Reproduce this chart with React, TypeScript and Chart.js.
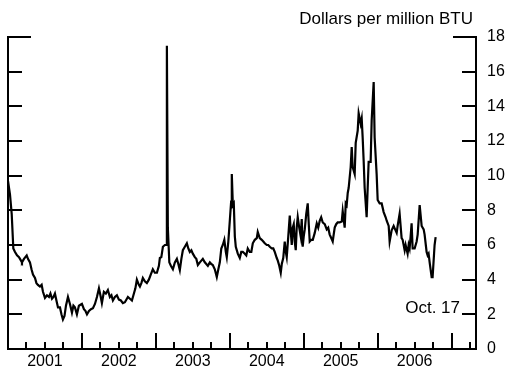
import React, { useEffect, useRef } from "react";
import { Chart, registerables } from "chart.js";

Chart.register(...registerables);

// Decimal-year positions of readings (weekly natural gas spot price)
const times = [
  2001.000, 2001.027, 2001.050, 2001.072, 2001.095, 2001.122, 2001.149, 2001.176, 2001.189, 2001.216,
  2001.253, 2001.270, 2001.297, 2001.318, 2001.338, 2001.365, 2001.385, 2001.405, 2001.432, 2001.455,
  2001.473, 2001.500, 2001.527, 2001.554, 2001.574, 2001.595, 2001.615, 2001.635, 2001.655, 2001.676,
  2001.703, 2001.723, 2001.743, 2001.764, 2001.784, 2001.811, 2001.838, 2001.865, 2001.885, 2001.905,
  2001.932, 2001.959, 2001.980, 2002.000, 2002.027, 2002.047, 2002.068, 2002.095, 2002.122, 2002.149,
  2002.176, 2002.203, 2002.230, 2002.250, 2002.270, 2002.297, 2002.324, 2002.351, 2002.378, 2002.399,
  2002.419, 2002.446, 2002.473, 2002.500, 2002.527, 2002.554, 2002.581, 2002.622, 2002.649, 2002.676,
  2002.703, 2002.723, 2002.743, 2002.770, 2002.784, 2002.804, 2002.824, 2002.851, 2002.878, 2002.905,
  2002.932, 2002.959, 2002.986, 2003.014, 2003.041, 2003.054, 2003.074, 2003.095, 2003.122, 2003.139,
  2003.149, 2003.162, 2003.182, 2003.203, 2003.230, 2003.257, 2003.284, 2003.304, 2003.324, 2003.345,
  2003.365, 2003.392, 2003.419, 2003.439, 2003.459, 2003.480, 2003.500, 2003.527, 2003.547, 2003.568,
  2003.595, 2003.615, 2003.635, 2003.662, 2003.682, 2003.703, 2003.730, 2003.750, 2003.770, 2003.797,
  2003.824, 2003.845, 2003.865, 2003.885, 2003.905, 2003.926, 2003.946, 2003.959, 2003.980, 2004.000,
  2004.018, 2004.027, 2004.041, 2004.054, 2004.068, 2004.081, 2004.108, 2004.135, 2004.155, 2004.176,
  2004.203, 2004.223, 2004.243, 2004.270, 2004.291, 2004.311, 2004.338, 2004.365, 2004.378, 2004.405,
  2004.432, 2004.453, 2004.473, 2004.500, 2004.520, 2004.541, 2004.568, 2004.588, 2004.608, 2004.635,
  2004.649, 2004.669, 2004.689, 2004.703, 2004.723, 2004.743, 2004.757, 2004.770, 2004.791, 2004.811,
  2004.824, 2004.838, 2004.851, 2004.865, 2004.878, 2004.892, 2004.905, 2004.919, 2004.939, 2004.959,
  2004.973, 2004.986, 2005.000, 2005.014, 2005.034, 2005.054, 2005.068, 2005.081, 2005.101, 2005.122,
  2005.149, 2005.176, 2005.196, 2005.216, 2005.236, 2005.257, 2005.284, 2005.311, 2005.331, 2005.351,
  2005.372, 2005.392, 2005.405, 2005.419, 2005.439, 2005.459, 2005.486, 2005.514, 2005.527, 2005.554,
  2005.568, 2005.581, 2005.595, 2005.608, 2005.635, 2005.649, 2005.662, 2005.689, 2005.703, 2005.730,
  2005.743, 2005.757, 2005.770, 2005.784, 2005.797, 2005.811, 2005.824, 2005.851, 2005.865, 2005.878,
  2005.905, 2005.919, 2005.946, 2005.959, 2005.986, 2006.000, 2006.027, 2006.054, 2006.081, 2006.108,
  2006.122, 2006.149, 2006.162, 2006.189, 2006.216, 2006.236, 2006.257, 2006.270, 2006.297, 2006.324,
  2006.338, 2006.365, 2006.378, 2006.405, 2006.419, 2006.432, 2006.446, 2006.459, 2006.473, 2006.500,
  2006.527, 2006.541, 2006.568, 2006.595, 2006.622, 2006.635, 2006.662, 2006.676, 2006.689, 2006.703,
  2006.730, 2006.743, 2006.770, 2006.784,
];

// Dollars per million BTU
const prices = [
  9.7, 8.9, 7.8, 5.8, 5.6, 5.4, 5.3, 5.1, 5.0, 5.2,
  5.4, 5.2, 5.0, 4.6, 4.3, 4.1, 3.8, 3.7, 3.6, 3.7,
  3.3, 2.95, 3.1, 3.0, 3.2, 2.9, 3.0, 3.2, 2.8, 2.4,
  2.4, 2.0, 1.7, 1.9, 2.5, 3.0, 2.6, 2.1, 2.5, 2.4,
  2.0, 2.5, 2.55, 2.6, 2.3, 2.2, 2.0, 2.2, 2.3, 2.35,
  2.6, 3.0, 3.5, 3.1, 2.65, 3.3, 3.2, 3.4, 3.0, 3.1,
  2.8, 3.0, 3.1, 2.85, 2.8, 2.65, 2.7, 3.0, 2.9, 2.8,
  3.2, 3.5, 4.0, 3.7, 3.6, 3.8, 4.1, 3.9, 3.8, 4.0,
  4.3, 4.6, 4.4, 4.4, 4.8, 5.25, 5.3, 5.9, 6.0, 6.0,
  17.5, 7.0, 5.0, 4.8, 4.6, 5.0, 5.2, 4.9, 4.55, 5.2,
  5.7, 5.9, 6.1, 5.8, 5.6, 5.7, 5.5, 5.3, 5.2, 4.85,
  5.0, 5.1, 5.2, 5.0, 4.9, 4.8, 5.0, 4.9, 4.85, 4.6,
  4.15, 4.6, 5.0, 5.8, 6.0, 6.3, 5.6, 5.3, 6.2, 7.4,
  8.5, 10.1, 8.3, 8.4, 6.5, 5.9, 5.5, 5.25, 5.6, 5.6,
  5.5, 5.4, 5.8, 5.6, 5.6, 6.1, 6.3, 6.4, 6.75, 6.4,
  6.3, 6.2, 6.1, 6.0, 6.0, 5.9, 5.8, 5.8, 5.6, 5.25,
  5.1, 4.8, 4.4, 4.9, 5.25, 6.2, 5.6, 5.3, 6.5, 7.7,
  6.8, 6.0, 7.0, 7.2, 6.2, 5.7, 7.0, 7.6, 7.0, 6.5,
  7.5, 5.9, 6.5, 6.9, 7.8, 8.4, 7.2, 6.2, 6.3, 6.3,
  6.7, 7.25, 7.0, 7.4, 7.6, 7.3, 7.2, 6.9, 7.0, 6.6,
  6.4, 6.2, 6.6, 7.0, 7.2, 7.3, 7.3, 7.35, 7.95, 7.0,
  8.4, 8.3, 9.0, 9.3, 10.5, 11.65, 10.5, 10.1, 11.9, 12.6,
  13.6, 13.3, 13.0, 13.3, 12.2, 10.8, 9.3, 7.6, 9.3, 10.8,
  10.8, 13.2, 15.4, 12.2, 10.1, 8.6, 8.4, 8.4, 7.9, 7.6,
  7.4, 7.1, 6.2, 6.85, 7.1, 6.9, 6.7, 7.1, 7.8, 6.4,
  6.3, 5.7, 6.0, 5.5, 6.0, 5.8, 6.5, 7.25, 5.8, 5.8,
  6.2, 6.6, 8.3, 7.1, 6.9, 6.6, 5.6, 5.4, 5.5, 5.0,
  4.15, 4.15, 6.0, 6.45,
];

const yearLabels = ["2001", "2002", "2003", "2004", "2005", "2006"];
const yTicks = [0, 2, 4, 6, 8, 10, 12, 14, 16, 18];
const unitLabel = "Dollars per million BTU";
const lastLabel = "Oct. 17";

const X_MIN = 2001;
const X_MAX = 2007.33;
const FONT = "'Liberation Sans', Arial, Helvetica, sans-serif";

const framePlugin = {
  id: "frame",
  afterDraw(chart: any) {
    const { ctx, chartArea, scales } = chart;
    const { left, right, top, bottom } = chartArea;
    const x = scales.x;
    const y = scales.y;
    ctx.save();
    ctx.strokeStyle = "#000";
    ctx.lineWidth = 2;
    ctx.lineCap = "butt";
    ctx.beginPath();
    ctx.moveTo(left, top);
    ctx.lineTo(left, bottom);
    ctx.lineTo(right, bottom);
    ctx.lineTo(right, top);
    ctx.stroke();

    ctx.beginPath();
    for (const v of yTicks) {
      if (v === 0) continue;
      const py = Math.round(y.getPixelForValue(v));
      const len = v === yTicks[yTicks.length - 1] ? 23 : 14;
      ctx.moveTo(left - 1, py);
      ctx.lineTo(left + len, py);
      ctx.moveTo(right + 1, py);
      ctx.lineTo(right - len, py);
    }
    for (let i = 1; X_MIN + i * 0.25 <= X_MAX; i++) {
      const q = X_MIN + i * 0.25;
      const px = Math.round(x.getPixelForValue(q));
      const len = i % 4 === 0 ? 16 : 7;
      ctx.moveTo(px, bottom);
      ctx.lineTo(px, bottom - len);
    }
    ctx.stroke();

    ctx.fillStyle = "#000";
    ctx.font = "17px " + FONT;
    ctx.textAlign = "right";
    ctx.textBaseline = "alphabetic";
    ctx.fillText(unitLabel, right - 3, 24);
    ctx.fillText(lastLabel, right - 16, y.getPixelForValue(2) - 1);
    ctx.restore();
  },
};

export default function App() {
  const ref = useRef<HTMLCanvasElement>(null);

  useEffect(() => {
    if (!ref.current) return;
    Chart.defaults.font.family = FONT;
    const chart = new Chart(ref.current, {
      type: "line",
      data: {
        datasets: [
          {
            data: times.map((t, i) => ({ x: t, y: prices[i] })),
            borderColor: "#000",
            borderWidth: 2.2,
            pointRadius: 0,
            tension: 0,
            fill: false,
          },
        ],
      },
      options: {
        responsive: false,
        animation: false,
        layout: { padding: { left: 8, top: 37, right: 0, bottom: 0 } },
        plugins: { legend: { display: false }, tooltip: { enabled: false } },
        scales: {
          x: {
            type: "linear",
            position: "bottom",
            min: X_MIN,
            max: X_MAX,
            grid: { display: false, drawTicks: false },
            border: { display: false },
            afterBuildTicks: (axis: any) => {
              axis.ticks = yearLabels.map((_, i) => ({ value: X_MIN + 0.5 + i }));
            },
            afterFit: (axis: any) => {
              axis.height = 21;
            },
            ticks: {
              autoSkip: false,
              maxRotation: 0,
              padding: 3,
              color: "#000",
              font: { size: 16 },
              callback: (v: any) => yearLabels[Math.round(Number(v) - X_MIN - 0.5)] ?? "",
            },
          },
          y: {
            position: "right",
            min: 0,
            max: 18,
            grid: { display: false, drawTicks: false },
            border: { display: false },
            afterBuildTicks: (axis: any) => {
              axis.ticks = yTicks.map((v) => ({ value: v }));
            },
            afterFit: (axis: any) => {
              axis.width = 43;
            },
            ticks: {
              padding: 11,
              color: "#000",
              font: { size: 16 },
            },
          },
        },
      },
      plugins: [framePlugin],
    });
    return () => chart.destroy();
  }, []);

  return (
    <div style={{ position: "absolute", left: 0, top: 0, width: 519, height: 370, background: "#fff" }}>
      <canvas ref={ref} width={519} height={370} style={{ width: 519, height: 370 }} />
    </div>
  );
}
